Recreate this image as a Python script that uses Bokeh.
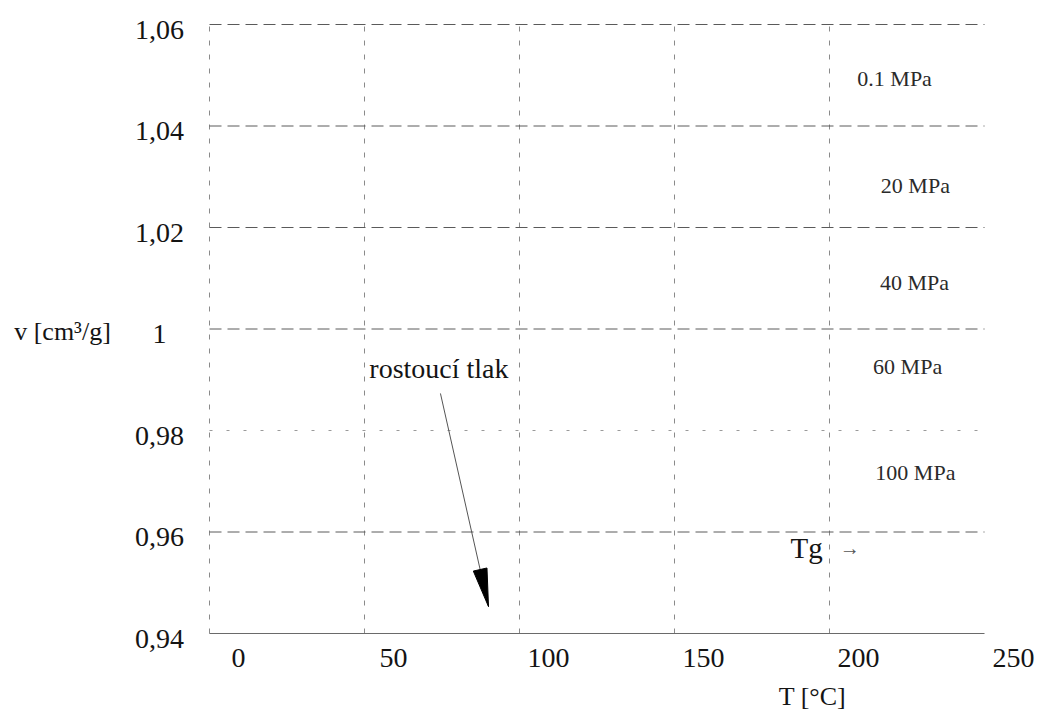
import math
from bokeh.plotting import figure
from bokeh.core.properties import value
from bokeh.embed import file_html
from bokeh.resources import INLINE

# ---- data ----
x_ticks = [0, 50, 100, 150, 200, 250]
x_tick_labels = ["0", "50", "100", "150", "200", "250"]
y_ticks = [0.94, 0.96, 0.98, 1.00, 1.02, 1.04, 1.06]
y_tick_labels = ["0,94", "0,96", "0,98", "1", "1,02", "1,04", "1,06"]
x_grid = [0, 50, 100, 150, 200]
y_grid_dashed = [0.96, 1.00, 1.02, 1.04, 1.06]
y_grid_faint = [0.98]
y_base = 0.94
T_min, T_max = 0, 250
v_min, v_max = 0.94, 1.06

pressure_labels = ["0.1 MPa", "20 MPa", "40 MPa", "60 MPa", "100 MPa"]
pressure_T = [221.0, 227.7, 227.4, 225.2, 227.7]
pressure_v = [1.0494, 1.0283, 1.0092, 0.9926, 0.9717]

arrow_text = "rostoucí tlak"
arrow_text_pos = (74.0, 0.9922)
arrow_start = (74.5, 0.9873)
arrow_end = (90.0, 0.9453)

tg_text = "Tg"
tg_pos = (192.6, 0.9568)
tg_arrow_pos = (206.5, 0.9568)

x_title = "T [°C]"
y_title = "v [cm³/g]"

# ---- layout ----
W, H = 1035, 712
PL, PT = 209, 24          # pixel position of (T_min, v_max)
FW, FH = 775, 609         # pixel size of the data area
sx = FW / (T_max - T_min)
sy = FH / (v_max - v_min)
x_range = (T_min - PL / sx, T_min + (W - PL) / sx)
y_range = (v_max - (H - PT) / sy, v_max + PT / sy)

FONT = value("Liberation Serif")
TXT = "#141414"

p = figure(width=W, height=H, x_range=x_range, y_range=y_range,
           output_backend="svg", toolbar_location=None,
           min_border=0)
p.xaxis.visible = False
p.yaxis.visible = False
p.xgrid.visible = False
p.ygrid.visible = False
p.outline_line_color = None
p.background_fill_color = "white"
p.border_fill_color = "white"

# grid
p.segment(x0=x_grid, y0=[v_min] * len(x_grid), x1=x_grid, y1=[v_max] * len(x_grid),
          line_color="#8a8a8a", line_dash="5 9", line_width=1)
p.segment(x0=[T_min] * len(y_grid_dashed), y0=y_grid_dashed,
          x1=[T_max] * len(y_grid_dashed), y1=y_grid_dashed,
          line_color="#5a5a5a", line_dash="12 6", line_width=1)
p.segment(x0=[T_min] * len(y_grid_faint), y0=y_grid_faint,
          x1=[T_max] * len(y_grid_faint), y1=y_grid_faint,
          line_color="#9a9a9a", line_dash="3 14", line_width=1)
p.segment(x0=[T_min], y0=[y_base], x1=[T_max], y1=[y_base],
          line_color="#6a6a6a", line_width=1.2)

# tick labels
p.text(x=x_ticks, y=[v_min] * len(x_ticks), text=x_tick_labels,
       x_offset=29, y_offset=24, text_align="center", text_baseline="middle",
       text_font=FONT, text_font_size="28px", text_color=TXT)
p.text(x=[T_min] * len(y_ticks), y=y_ticks, text=y_tick_labels,
       x_offset=-50, y_offset=5, text_align="center", text_baseline="middle",
       text_font=FONT, text_font_size="28px", text_color=TXT)

# axis titles
p.text(x=[194.5], y=[v_min], text=[x_title], y_offset=63,
       text_align="center", text_baseline="middle",
       text_font=FONT, text_font_size="26px", text_color=TXT)
p.text(x=[T_min], y=[1.00], text=[y_title], x_offset=-147, y_offset=2,
       text_align="center", text_baseline="middle",
       text_font=FONT, text_font_size="26px", text_color=TXT)

# pressure labels
p.text(x=pressure_T, y=pressure_v, text=pressure_labels, text_align="center",
       text_baseline="middle", text_font=FONT, text_font_size="22px",
       text_color="#2a2a2a")

# "rostoucí tlak" with arrow
p.text(x=[arrow_text_pos[0]], y=[arrow_text_pos[1]], text=[arrow_text],
       text_align="center", text_baseline="middle", text_font=FONT,
       text_font_size="28px", text_color=TXT)
p.segment(x0=[arrow_start[0]], y0=[arrow_start[1]], x1=[arrow_end[0]],
          y1=[arrow_end[1]], line_color="#555555", line_width=1)
dx = (arrow_end[0] - arrow_start[0]) * sx
dy = (arrow_end[1] - arrow_start[1]) * sy
L = math.hypot(dx, dy)
ux, uy = dx / L, dy / L
head_len, head_half = 38, 7
bx = arrow_end[0] * sx - ux * head_len
by = arrow_end[1] * sy - uy * head_len
nx, ny = -uy, ux
hx = [arrow_end[0], (bx + nx * head_half) / sx, (bx - nx * head_half) / sx]
hy = [arrow_end[1], (by + ny * head_half) / sy, (by - ny * head_half) / sy]
p.patch(hx, hy, fill_color="black", line_color="black")

# Tg
p.text(x=[tg_pos[0]], y=[tg_pos[1]], text=[tg_text], text_align="center",
       text_baseline="middle", text_font=FONT, text_font_size="29px",
       text_color=TXT)
p.text(x=[tg_arrow_pos[0]], y=[tg_arrow_pos[1]], text=["→"],
       text_align="center", text_baseline="middle", text_font=FONT,
       text_font_size="20px", text_color="#555555")

open("out.html", "w").write(file_html(p, INLINE))
